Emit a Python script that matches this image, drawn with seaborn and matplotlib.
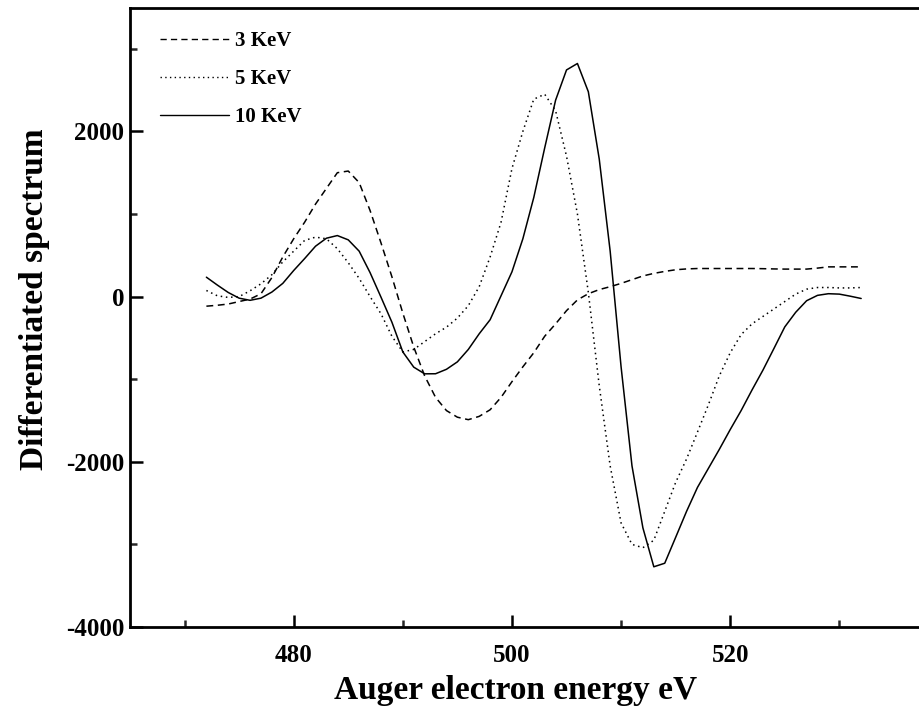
import numpy as np
import pandas as pd
import matplotlib
matplotlib.use("Agg")
import matplotlib.pyplot as plt
import seaborn as sns
from matplotlib.ticker import MultipleLocator

energy = list(range(472, 533))

kev3 = [-116, -105, -90, -60, -30, 34, 230, 480, 700, 900,
        1120, 1310, 1500, 1520, 1380, 1042, 650, 240, -200, -610,
        -960, -1220, -1380, -1460, -1490, -1450, -1370, -1220, -1030, -850,
        -680, -480, -330, -170, -40, 35, 85, 120, 160, 205,
        250, 281, 305, 325, 335, 340, 340, 340, 340, 340,
        340, 338, 335, 333, 333, 333, 345, 360, 360, 360,
        360]

kev5 = [74, 10, -10, 0, 70, 155, 265, 420, 550, 680,
        720, 700, 580, 410, 220, 0, -208, -480, -670, -640,
        -545, -450, -370, -260, -110, 120, 480, 900, 1550, 2000,
        2390, 2450, 2250, 1700, 1000, 50, -1080, -2050, -2740, -3000,
        -3040, -2950, -2600, -2250, -1966, -1640, -1310, -960, -680, -460,
        -330, -240, -150, -60, 30, 90, 110, 110, 105, 105,
        110]

kev10 = [235, 140, 50, -19, -45, -19, 55, 160, 316, 460,
         610, 707, 739, 687, 550, 290, -7, -310, -670, -854,
         -935, -934, -880, -790, -640, -450, -280, 10, 300, 700,
         1200, 1800, 2378, 2744, 2822, 2480, 1664, 550, -850, -2050,
         -2800, -3271, -3228, -2915, -2600, -2310, -2080, -1850, -1610, -1380,
         -1130, -890, -630, -367, -190, -50, 15, 35, 30, 5,
         -23]

labels = ["3 KeV", "5 KeV", "10 KeV"]
series = [kev3, kev5, kev10]
styles = [(0, (4.5, 3)), (0, (1, 2.4)), "-"]

sns.set_theme(style="white")
plt.rcParams["font.family"] = ["Liberation Serif", "DejaVu Serif"]
plt.rcParams["font.weight"] = "bold"
plt.rcParams["axes.unicode_minus"] = False
plt.rcParams["text.color"] = "black"
plt.rcParams["axes.labelcolor"] = "black"

fig = plt.figure(figsize=(9.19, 7.10), dpi=100)
W, H = 919, 710
left_px, right_px, top_px, bottom_px = 130, 919, 7.5, 627
ax = fig.add_axes([left_px / W, (H - bottom_px) / H,
                   (right_px - left_px) / W, (bottom_px - top_px) / H])

for lab, vals, ls in zip(labels, series, styles):
    df = pd.DataFrame({"energy": energy, "value": vals})
    sns.lineplot(data=df, x="energy", y="value", ax=ax, color="black",
                 linewidth=1.1, linestyle=ls, label=lab)

ax.set_xlim(465, 537.3)
ax.set_ylim(-4000, 3500)
ax.xaxis.set_major_locator(MultipleLocator(20))
ax.xaxis.set_minor_locator(MultipleLocator(10))
ax.yaxis.set_major_locator(MultipleLocator(2000))
ax.yaxis.set_minor_locator(MultipleLocator(1000))

ax.spines["right"].set_visible(False)
for s in ["left", "bottom", "top"]:
    ax.spines[s].set_linewidth(2.0)
    ax.spines[s].set_color("black")

ax.tick_params(axis="both", which="major", direction="in", length=9, width=1.8,
               labelsize=18, colors="black")
ax.tick_params(axis="both", which="minor", direction="in", length=5, width=1.8)
ax.tick_params(axis="x", which="both", top=False, bottom=True, pad=12)
ax.tick_params(axis="y", which="both", left=True, right=False, pad=4)
for t in ax.get_xticklabels() + ax.get_yticklabels():
    t.set_fontweight("bold")

ax.set_xlabel("Auger electron energy eV", fontsize=24, fontweight="bold",
              color="black")
ax.set_ylabel("Differentiated spectrum", fontsize=24, fontweight="bold",
              color="black")
ax.xaxis.set_label_coords(0.489, -0.077)
ax.yaxis.set_label_coords(-0.101, 0.529)

leg = ax.legend(loc="upper left", bbox_to_anchor=(0.02, 0.985), frameon=False,
                fontsize=15, handlelength=3.3, handletextpad=0.3,
                labelspacing=0.85, borderaxespad=0.3)
for txt in leg.get_texts():
    txt.set_fontweight("bold")
    txt.set_color("black")
for line in leg.get_lines():
    line.set_linewidth(1.0)

ax.grid(False)
fig.savefig("out.png", dpi=100)
